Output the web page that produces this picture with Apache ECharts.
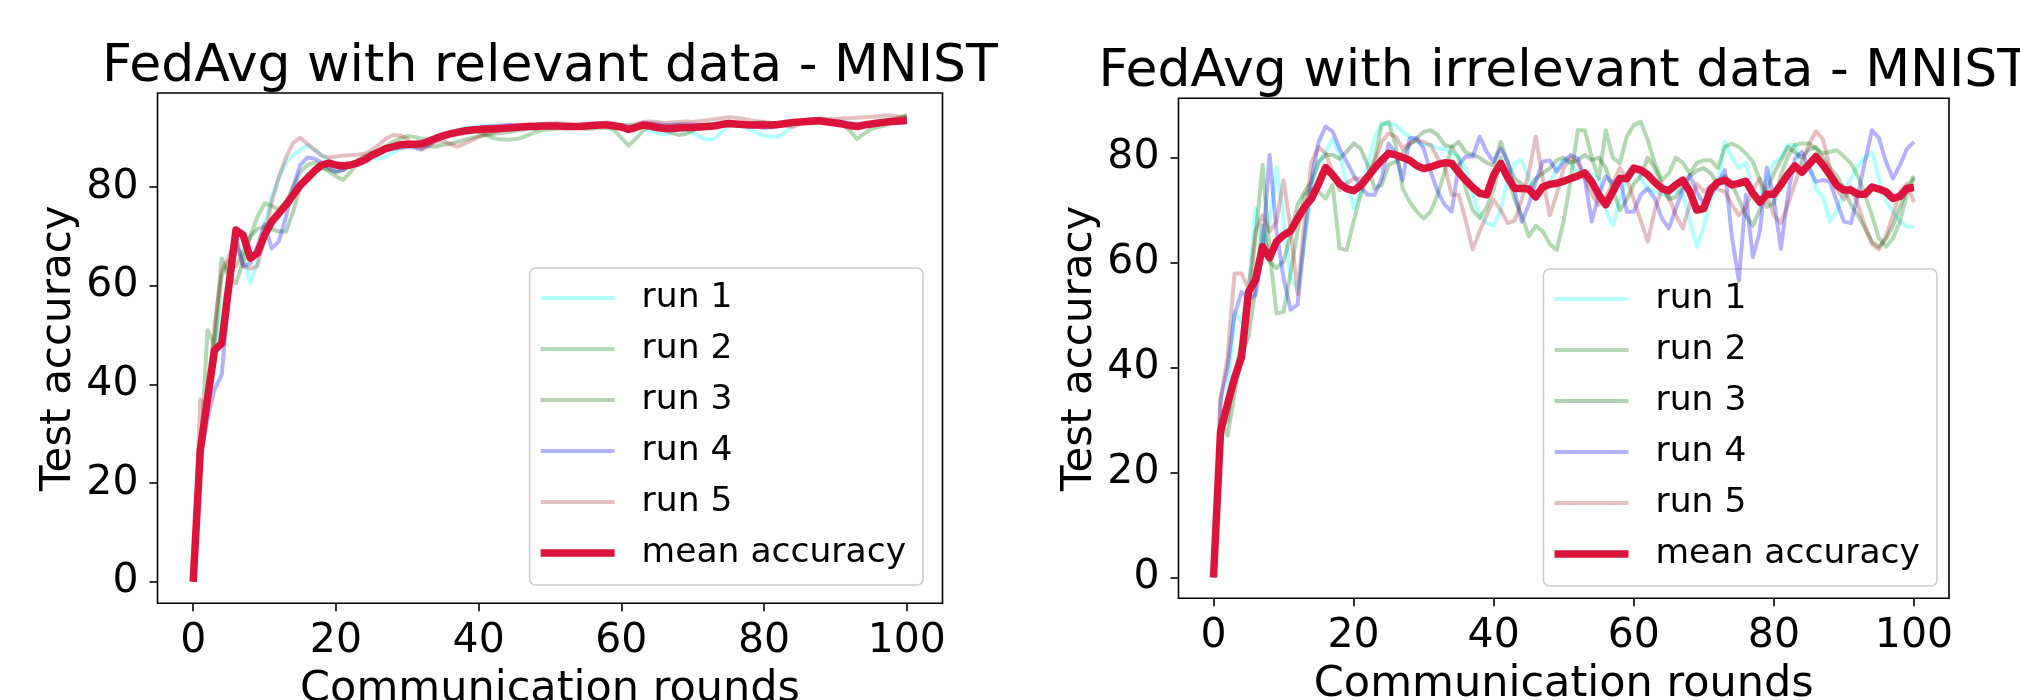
<!DOCTYPE html>
<html><head><meta charset="utf-8">
<script src="https://cdn.jsdelivr.net/npm/echarts@6/dist/echarts.min.js"></script>
<style>html,body{margin:0;padding:0;background:#fff}#c{width:2020px;height:700px}</style>
</head><body><div id="c"></div>
<script>
const xTicks = [0, 20, 40, 60, 80, 100];
const yTicks = [0, 20, 40, 60, 80];
const seriesNames = ['run 1', 'run 2', 'run 3', 'run 4', 'run 5', 'mean accuracy'];
const titles = ['FedAvg with relevant data - MNIST', 'FedAvg with irrelevant data - MNIST'];

// ---- relevant data (left) ----
const relRun1 = [0, 28, 38, 46, 55, 62, 68, 66, 60.5, 65,
 72, 78, 82, 85, 86.5, 87.5, 88.5, 87.5, 86.5, 85.5,
 84.5, 84, 84.5, 85, 85.5, 86, 85.8, 86.2, 87, 87.8,
 88.2, 88.5, 88.4, 88.8, 89.5, 90.5, 91.2, 91.6, 92, 92.2,
 92.3, 92.4, 92.2, 92.0, 91.8, 92.0, 92.3, 92.5, 92.4, 92.6,
 92.5, 92.4, 92.6, 92.7, 92.5, 92.3, 92.4, 92.6, 92.5, 92.3,
 92.5, 92.6, 92.4, 92.0, 91.5, 91.0, 90.6, 91.2, 91.8, 91.5,
 91.0, 90.2, 89.6, 89.8, 91.2, 92.4, 92.6, 92.3, 91.6, 91.0,
 90.4, 90.3, 90.2, 91.2, 92.6, 93.2, 93.4, 93.6, 93.2, 93.0,
 92.8, 92.6, 92.8, 92.6, 92.4, 92.8, 93.2, 93.4, 93.5, 93.6,
 93.5];
const relRun2 = [0, 24, 51, 48, 62, 65, 64, 67, 70, 74,
 76.7, 76.2, 75.5, 77, 80, 83, 84.5, 85, 84.2, 83.2,
 82.2, 81.5, 83, 84.8, 86, 86.8, 87.6, 88.3, 89.2, 89.9,
 90.4, 90.2, 89.8, 89.6, 89.7, 90.2, 90.8, 91.2, 91.5, 91.6,
 91.2, 90.6, 90.0, 89.7, 89.6, 89.7, 90.0, 90.6, 91.2, 91.6,
 91.7, 91.9, 92.0, 92.2, 92.0, 91.8, 91.9, 92.0, 92.1, 91.5,
 90.0, 88.4, 89.8, 91.4, 92.4, 92.5, 92.3, 92.4, 92.6, 92.4,
 92.2, 92.5, 92.7, 92.6, 92.8, 93.0, 92.9, 92.7, 92.8, 93.0,
 93.1, 92.9, 92.7, 92.9, 93.1, 93.4, 93.6, 93.8, 93.9, 93.6,
 93.3, 92.8, 91.5, 89.8, 90.8, 91.8, 92.2, 92.5, 93.2, 94.0,
 94.4];
const relRun3 = [0, 26, 40, 50, 65.5, 62, 60.5, 65, 70, 71.5,
 72, 71.5, 71, 71, 75, 80, 82.5, 83.5, 84, 83.6,
 83, 83.5, 84.5, 85.5, 86.3, 87, 87.3, 87.8, 88.1, 88.4,
 88.6, 88.9, 88.6, 88.3, 88.2, 88.6, 88.8, 89.2, 89.6, 90.0,
 90.3, 90.6, 90.8, 91.0, 91.2, 91.4, 91.7, 91.9, 92.0, 92.1,
 92.2, 92.1, 92.2, 92.4, 92.5, 92.6, 92.5, 92.4, 92.5, 92.6,
 92.4, 92.2, 92.5, 92.7, 92.6, 92.3, 91.6, 91.0, 90.6, 90.8,
 91.5, 92.2, 92.6, 92.8, 92.9, 93.0, 92.8, 92.6, 92.9, 93.1,
 93.0, 92.7, 92.8, 93.0, 93.3, 93.5, 93.7, 93.8, 93.6, 93.4,
 93.2, 93.0, 92.6, 92.4, 92.6, 92.9, 93.2, 93.5, 93.8, 94.2,
 94.6];
const relRun4 = [0, 25, 33, 39, 42, 58, 70, 64, 64.5, 68,
 72.5, 67.6, 69, 74, 80, 84.5, 86, 85.8, 85, 84,
 83.2, 83.5, 84.2, 85, 85.6, 86.4, 87.2, 87.6, 87.8, 88,
 88.2, 88.0, 87.8, 88.6, 89.5, 90.2, 90.8, 91.2, 91.5, 91.8,
 92.0, 92.2, 92.4, 92.5, 92.6, 92.6, 92.5, 92.6, 92.7, 92.8,
 92.7, 92.6, 92.5, 92.4, 92.3, 92.4, 92.5, 92.6, 92.4, 92.2,
 92.0, 91.8, 92.4, 92.9, 93.0, 92.8, 92.6, 92.6, 92.7, 92.8,
 92.7, 92.6, 92.5, 92.4, 92.6, 92.9, 92.8, 92.6, 92.4, 92.2,
 92.0, 92.1, 92.4, 92.8, 93.0, 93.2, 93.4, 93.6, 93.7, 93.6,
 93.4, 93.2, 93.0, 92.8, 92.9, 93.0, 93.1, 93.2, 93.3, 93.4,
 93.5];
const relRun5 = [0, 37, 35, 52, 63, 66, 69, 64, 63.5, 64,
 70, 77, 82, 86, 89, 90, 88.8, 87.6, 86.4, 86,
 86.2, 86.4, 86.5, 86.6, 86.8, 87.5, 88.6, 89.8, 90.6, 90.5,
 89.8, 88.2, 87.6, 88.4, 89.2, 89.4, 88.8, 88.2, 88.8, 89.5,
 90.2, 90.8, 91.2, 91.6, 92.0, 92.3, 92.6, 92.7, 92.6, 92.8,
 92.9, 93.0, 92.9, 92.6, 92.5, 92.7, 92.9, 93.0, 93.1, 92.9,
 92.6, 92.5, 92.9, 93.2, 93.3, 93.2, 93.0, 93.1, 93.2, 93.3,
 93.2, 93.4, 93.6, 93.8, 94.0, 94.2, 94.1, 93.9, 93.6, 93.4,
 93.2, 93.0, 92.8, 92.5, 92.2, 92.8, 93.4, 93.8, 94.0, 93.8,
 93.9, 94.0, 94.0, 94.1, 94.2, 94.3, 94.4, 94.6, 94.5, 94.3,
 94.2];
const relMean = [0, 26.7, 37, 47, 48.3, 60, 71.3, 70.3, 65.6, 66.6,
 70.3, 73, 74.7, 76.4, 78.4, 80.4, 81.8, 83.3, 84.5, 84.9,
 84.5, 84.3, 84.5, 84.9, 85.5, 86.4, 87.1, 87.8, 88.2, 88.6,
 88.7, 88.7, 88.8, 89.3, 89.9, 90.4, 90.8, 91.1, 91.4, 91.6,
 91.7, 91.8, 91.8, 91.9, 92.0, 92.1, 92.2, 92.3, 92.3, 92.4,
 92.4, 92.4, 92.3, 92.3, 92.3, 92.4, 92.5, 92.6, 92.6, 92.4,
 92.2, 91.7, 92.1, 92.6, 92.4, 92.1, 91.9, 91.9, 92.0, 92.1,
 92.1, 92.2, 92.3, 92.4, 92.7, 92.9, 92.8, 92.7, 92.6, 92.6,
 92.6, 92.6, 92.7, 92.9, 93.1, 93.2, 93.3, 93.4, 93.4, 93.2,
 93.0, 92.8, 92.5, 92.3, 92.6, 92.8, 93.0, 93.2, 93.3, 93.4,
 93.5];

// ---- irrelevant data (right) ----
const irrRun1 = [0, 25.5, 34.8, 50.6, 48.7, 55, 70.3, 62, 68, 78.2,
 68, 57, 55, 64, 74, 79, 81, 83.6, 80.5, 75.4,
 70.3, 73.5, 78.6, 83.7, 86.5, 86.5, 86.2, 84.9, 84, 83,
 82.4, 82.4, 81.7, 81.7, 80.8, 80, 78, 73, 69, 67.5,
 67, 70, 76, 79, 79.5, 76, 73, 74, 75, 78,
 79.5, 79, 77, 76.5, 76.8, 76, 70, 67, 72, 76,
 78, 76, 74, 73.5, 73, 72.5, 74, 73, 68, 63,
 67, 72, 75, 83, 80, 78, 79, 73.5, 72, 76,
 79, 80, 82.4, 82.4, 78.6, 79, 74, 72.5, 67.8, 70,
 73.5, 76, 78.5, 80, 81, 76, 71.6, 69.7, 67.8, 66.8,
 66.8];
const irrRun2 = [0, 28, 30, 38, 45, 52, 65, 78.6, 62, 50.3,
 50.6, 58, 66, 72.9, 74, 73.5, 72.2, 74.8, 62.7, 62.4,
 67.8, 72.9, 76, 79.8, 86.2, 86.8, 82.4, 74.1, 71.6, 69.7,
 68.4, 69.7, 72.9, 77.3, 82, 80, 74, 70, 68.5, 70.5,
 74, 80, 76, 72, 69, 65, 67, 66, 63.5, 62.4,
 68, 76, 85.2, 85.2, 80, 76, 85.2, 80, 78.9, 84,
 86.2, 86.8, 83.3, 78.9, 75.7, 77, 80, 79, 77, 79,
 79.5, 79.5, 78, 82, 82.7, 82, 80.8, 79.2, 75.7, 70.6,
 71.3, 76.7, 80.2, 82.4, 82.7, 82.7, 81.7, 80.8, 81.1, 81.4,
 80.2, 78.9, 76.4, 72.9, 69, 64.6, 63, 64.6, 67.8, 72.9,
 76.1];
const irrRun3 = [0, 30, 27, 35, 42, 46, 55, 67.1, 60.2, 58.9,
 60.2, 65.2, 71, 73.5, 75.4, 79.2, 80.5, 80.5, 79.8, 81.1,
 82.7, 81.7, 78.6, 74.1, 74.8, 78.6, 79.2, 80.8, 82.4, 83.7,
 84.9, 85.2, 84.3, 82.4, 82, 83, 81, 80.5, 80, 79,
 78.5, 83, 79, 76, 75, 74, 76, 77, 78, 79.5,
 80, 79, 79.5, 80.5, 79.5, 80, 78, 74, 70, 72,
 75, 76.5, 80, 78, 75, 72, 72.5, 74.5, 76.5, 77.5,
 78, 77, 75, 76.5, 75, 72, 69, 67, 70, 74,
 77, 79.5, 82, 81, 80, 81.5, 82, 80, 78, 76.5,
 74, 71, 69, 66.5, 64, 63, 64.5, 67, 70.5, 74,
 76.5];
const irrRun4 = [0, 33.8, 40, 50, 54.4, 53, 53.8, 62, 80.5, 66,
 57, 51, 52, 65, 76, 83, 85.9, 85, 81.7, 79.2,
 76.7, 74.4, 72.9, 72.9, 76, 82.7, 80.8, 75.7, 83.7, 83.7,
 81.7, 77.3, 73.5, 71, 69.7, 78.6, 80.2, 80.2, 84, 81.1,
 79.2, 81.7, 79.2, 73.5, 67.8, 71, 75.4, 79.2, 79.5, 77.3,
 79.2, 80.5, 79.8, 76, 67.8, 72.9, 76.4, 75.1, 76.4, 69.7,
 69.7, 72.9, 74.1, 72.2, 68.4, 66.5, 70.3, 73.8, 76.7, 73.5,
 71, 72.9, 75, 77.6, 65, 56.5, 72.9, 61, 66, 78.1,
 72, 62.6, 72.9, 79.8, 81.1, 78, 75.4, 75.7, 75.4, 71.5,
 67.8, 67.5, 72.9, 79.2, 85.2, 83.7, 79.2, 76, 78.6, 81.7,
 83];
const irrRun5 = [0, 34, 42, 57.9, 57.9, 55, 65.9, 69, 65.9, 67.8,
 75.7, 66.5, 54, 68, 79.2, 82, 80.8, 77.3, 73.8, 75.1,
 76, 76, 76, 79.2, 83, 84.6, 84, 81.7, 82.7, 83.3,
 83, 82.4, 79.9, 78.3, 72.9, 72.9, 68, 62.5, 66, 69,
 72, 70, 67.5, 68, 72, 77, 84, 76, 69, 73,
 78, 80, 79, 76, 73, 71, 72.5, 75, 78, 76,
 72, 68, 64, 70, 74, 72.5, 69, 66.5, 71, 75,
 73.5, 74.5, 74, 73.5, 71, 69, 70.5, 74, 76, 73,
 69, 67.5, 71, 75, 79, 82.5, 85, 83.5, 78, 74,
 72, 74.5, 71, 67, 63.5, 62.5, 65, 69, 73.5, 75,
 71.5];
const irrMean = [0, 27.8, 33, 38, 42, 54.4, 56.7, 63, 60.9, 64,
 65.2, 66, 68.4, 70.6, 72.2, 75, 78.1, 76.7, 75, 74.1,
 73.7, 74.7, 76.3, 78, 79.5, 80.8, 80.5, 80, 79.5, 78.5,
 77.9, 78.2, 78.7, 79, 78.9, 77.2, 75.7, 74.3, 73.2, 72.9,
 76.7, 78.9, 76.2, 74.1, 74.1, 74, 72.5, 74.4, 74.9, 75.1,
 75.5, 76, 76.5, 77.1, 75.4, 72.9, 71, 73.5, 76, 76,
 78, 77.6, 76.7, 75.3, 74.1, 73.7, 74.8, 75.7, 73.5, 70,
 70.3, 74, 75.3, 75.7, 74.8, 75.1, 75.5, 73.2, 71.5, 73,
 73, 74.8, 76.8, 78.4, 77.2, 78.7, 80.2, 78.6, 76.7, 74.7,
 73.8, 73.8, 73, 73, 74.4, 74, 73.5, 72.2, 72.6, 74.1,
 74.3];

const FONT = 'DejaVu Sans';
const colors = ['rgba(0,255,255,0.3)', 'rgba(0,128,0,0.3)', 'rgba(0,100,0,0.3)',
                'rgba(0,0,255,0.3)', 'rgba(165,42,42,0.3)', '#dc143c'];
const widths = [4, 4, 4, 4, 4, 7.5];

const panels = [
  { runs: [relRun1, relRun2, relRun3, relRun4, relRun5, relMean],
    grid: { left: 157.5, top: 93, width: 785, height: 510.3 },
    yMin: -4.38, yMax: 99.1, titleTop: 41, legendLeft: 529.6, legendTop: 268 },
  { runs: [irrRun1, irrRun2, irrRun3, irrRun4, irrRun5, irrMean],
    grid: { left: 1178.5, top: 98.3, width: 770.5, height: 500 },
    yMin: -4.0, yMax: 91.3, titleTop: 46, legendLeft: 1543.5, legendTop: 269 }
];

const option = { animation: false, backgroundColor: '#fff',
  title: [], grid: [], xAxis: [], yAxis: [], legend: [], series: [] };

panels.forEach((p, k) => {
  option.grid.push(Object.assign({ show: true, borderColor: '#000', borderWidth: 1.6,
    backgroundColor: 'transparent', outerBoundsMode: 'none', containLabel: false }, p.grid));
  option.title.push({ text: titles[k], left: p.grid.left + p.grid.width / 2, top: p.titleTop,
    textAlign: 'center', padding: 0,
    textStyle: { fontFamily: FONT, fontSize: 52, fontWeight: 'normal', color: '#000' } });
  option.xAxis.push({ gridIndex: k, type: 'value', min: -5, max: 105,
    axisLine: { show: false, onZero: false },
    axisTick: { show: true, length: 8, customValues: xTicks, lineStyle: { color: '#000', width: 1.6 } },
    axisLabel: { customValues: xTicks, fontFamily: FONT, fontSize: 41, color: '#000', margin: 18 },
    splitLine: { show: false },
    name: 'Communication rounds', nameLocation: 'middle', nameGap: 65,
    nameTextStyle: { fontFamily: FONT, fontSize: 43, color: '#000' } });
  option.yAxis.push({ gridIndex: k, type: 'value', min: p.yMin, max: p.yMax,
    axisLine: { show: false, onZero: false },
    axisTick: { show: true, length: 8, customValues: yTicks, lineStyle: { color: '#000', width: 1.6 } },
    axisLabel: { customValues: yTicks, fontFamily: FONT, fontSize: 41, color: '#000', margin: 19 },
    splitLine: { show: false },
    name: 'Test accuracy', nameLocation: 'middle', nameGap: 77, nameRotate: 90,
    nameTextStyle: { fontFamily: FONT, fontSize: 42, color: '#000' } });
  option.legend.push({ orient: 'vertical', left: p.legendLeft, top: p.legendTop,
    padding: [10, 17, 12, 11], itemWidth: 74, itemHeight: 14, itemGap: 11,
    backgroundColor: 'rgba(255,255,255,0.8)', borderColor: '#cccccc', borderWidth: 1.5, borderRadius: 6,
    selectedMode: false, symbolKeepAspect: true,
    textStyle: { fontFamily: FONT, fontSize: 34.5, color: '#000', lineHeight: 40, padding: [0, 0, 0, 22] },
    data: seriesNames.map((n, i) => ({ name: n, icon: 'path://M0,0H74V' + widths[i] + 'H0Z',
      itemStyle: { color: colors[i], borderWidth: 0 } })) });
  p.runs.forEach((arr, i) => {
    option.series.push({ type: 'line', name: seriesNames[i], xAxisIndex: k, yAxisIndex: k,
      data: arr.map((v, r) => [r, v]), symbol: 'none', showSymbol: false, silent: true,
      color: colors[i], lineStyle: { color: colors[i], width: widths[i], join: 'round', cap: 'butt' },
      emphasis: { disabled: true }, z: 2 + i });
  });
});

const chart = echarts.init(document.getElementById('c'), null, { renderer: 'canvas', width: 2020, height: 700 });
chart.setOption(option);
</script></body></html>
